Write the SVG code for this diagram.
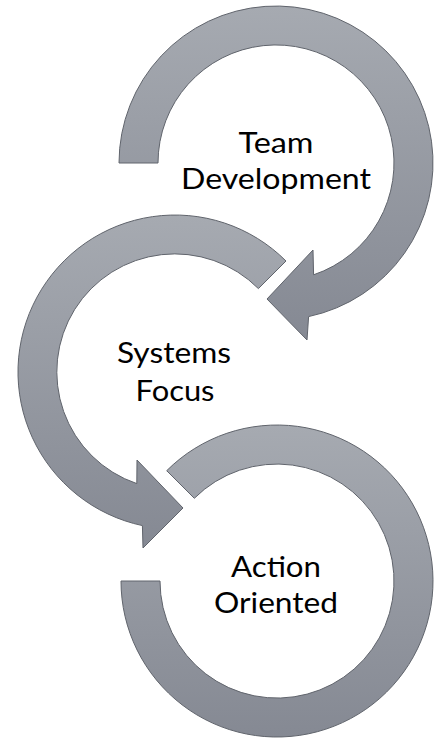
<svg xmlns="http://www.w3.org/2000/svg" width="436" height="738" viewBox="0 0 436 738">
  <defs>
    <linearGradient id="g" x1="0" y1="0" x2="0" y2="1">
      <stop offset="0" stop-color="#a6aab1"/>
      <stop offset="1" stop-color="#858993"/>
    </linearGradient>
    <style>
      .arrow { fill: url(#g); stroke: #60646c; stroke-width: 1; stroke-linejoin: miter; }
      .label { font-family: Lato, "Open Sans", "Liberation Sans", sans-serif; font-size: 29px; fill: #000; text-anchor: middle; }
    </style>
  </defs>
  <rect width="436" height="738" fill="#ffffff"/>
  <g id="connectors"></g>
  <g id="node-action-oriented">
    <path class="arrow" d="M 121 581 A 156 156 0 1 0 166.7 470.7 L 194.3 498.3 A 117 117 0 1 1 160 581 Z"/>
    <text class="label" x="276" y="577" textLength="90" lengthAdjust="spacingAndGlyphs">Action</text>
    <text class="label" x="276" y="613" textLength="124" lengthAdjust="spacingAndGlyphs">Oriented</text>
  </g>
  <g id="node-systems-focus">
    <path class="arrow" d="M 286 261 A 157 157 0 1 0 142.4 525.6 L 143 548 L 183 508 L 137 460 L 136.8 483.6 A 118 118 0 1 1 258.4 288.6 Z"/>
    <text class="label" x="174" y="363" textLength="114" lengthAdjust="spacingAndGlyphs">Systems</text>
    <text class="label" x="175" y="401" textLength="79" lengthAdjust="spacingAndGlyphs">Focus</text>
  </g>
  <g id="node-team-development">
    <path class="arrow" d="M 119 163 A 157 157 0 1 1 308.6 316.6 L 307 340 L 267 299 L 313 250 L 313.6 274.8 A 118 118 0 1 0 158 163 Z"/>
    <text class="label" x="276" y="153" textLength="75" lengthAdjust="spacingAndGlyphs">Team</text>
    <text class="label" x="276" y="188.5" textLength="190" lengthAdjust="spacingAndGlyphs">Development</text>
  </g>
</svg>
